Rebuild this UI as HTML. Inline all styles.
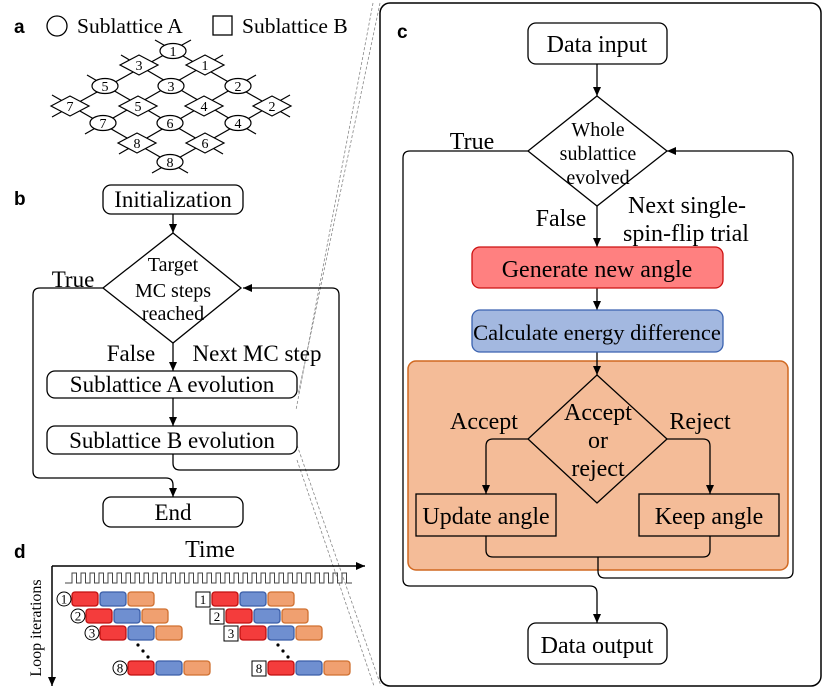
<!DOCTYPE html>
<html><head><meta charset="utf-8"><style>
body{margin:0;background:#fff}
svg{display:block}
text{font-family:"Liberation Serif",serif;fill:#000}
.b{font-family:"Liberation Sans",sans-serif;font-weight:bold}
</style></head><body>
<svg width="831" height="689" viewBox="0 0 831 689" xmlns="http://www.w3.org/2000/svg">
<defs>
<marker id="ar" markerWidth="10" markerHeight="10" refX="9" refY="5" orient="auto" markerUnits="userSpaceOnUse">
<path d="M0,1 L9,5 L0,9 z" fill="#000"/></marker>
</defs>

<g stroke="#888" stroke-width="0.8" stroke-dasharray="3,2" fill="none">
<line x1="380" y1="3" x2="298" y2="395"/>
<line x1="373" y1="3" x2="296" y2="410"/>
<line x1="297" y1="445" x2="381" y2="686"/>
<line x1="297" y1="460" x2="374" y2="686"/>
</g>

<!-- Panel a -->
<text x="14" y="33" class="b" font-size="19">a</text>
<circle cx="57" cy="26" r="10" fill="none" stroke="#000" stroke-width="1.3"/>
<text x="77" y="33" font-size="21.5">Sublattice A</text>
<rect x="213" y="16" width="19" height="19" fill="none" stroke="#000" stroke-width="1.3"/>
<text x="242" y="33" font-size="21.5">Sublattice B</text>
<g stroke="#000" stroke-width="1.2">
<line x1="155" y1="40" x2="290" y2="117"/>
<line x1="121" y1="55" x2="256" y2="134"/>
<line x1="87" y1="75" x2="223" y2="154"/>
<line x1="52" y1="95" x2="188" y2="173"/>
<line x1="191" y1="40" x2="52" y2="117"/>
<line x1="223" y1="55" x2="85" y2="134"/>
<line x1="256" y1="75" x2="119" y2="154"/>
<line x1="290" y1="95" x2="152" y2="173"/>
</g>
<g fill="#fff" stroke="#000" stroke-width="1.2">
<ellipse cx="173" cy="51" rx="13" ry="7.5"/>
<ellipse cx="105" cy="86" rx="13" ry="7.5"/>
<ellipse cx="171" cy="86" rx="13" ry="7.5"/>
<ellipse cx="238" cy="86" rx="13" ry="7.5"/>
<ellipse cx="103" cy="123" rx="13" ry="7.5"/>
<ellipse cx="170" cy="123" rx="13" ry="7.5"/>
<ellipse cx="238" cy="123" rx="13" ry="7.5"/>
<ellipse cx="170" cy="162" rx="13" ry="7.5"/>
<path d="M120,65 l19,-10 l19,10 l-19,10z"/>
<path d="M186,65 l19,-10 l19,10 l-19,10z"/>
<path d="M51,106 l19,-10 l19,10 l-19,10z"/>
<path d="M119,106 l19,-10 l19,10 l-19,10z"/>
<path d="M185,106 l19,-10 l19,10 l-19,10z"/>
<path d="M253,106 l19,-10 l19,10 l-19,10z"/>
<path d="M118,143 l19,-10 l19,10 l-19,10z"/>
<path d="M186,143 l19,-10 l19,10 l-19,10z"/>
</g>
<g font-size="14" text-anchor="middle" fill="#444">
<text x="173" y="56">1</text><text x="105" y="91">5</text><text x="171" y="91">3</text><text x="238" y="91">2</text>
<text x="103" y="128">7</text><text x="170" y="128">6</text><text x="238" y="128">4</text><text x="170" y="167">8</text>
<text x="139" y="70">3</text><text x="205" y="70">1</text><text x="70" y="111">7</text><text x="138" y="111">5</text>
<text x="204" y="111">4</text><text x="272" y="111">2</text><text x="137" y="148">8</text><text x="205" y="148">6</text>
</g>

<!-- Panel b -->
<text x="14" y="205" class="b" font-size="19">b</text>
<g fill="#fff" stroke="#000" stroke-width="1.3">
<rect x="103" y="185" width="140" height="29" rx="8"/>
<path d="M173,233 L241,288 L173,343 L103,288 Z"/>
<rect x="47" y="371" width="250" height="27" rx="8"/>
<rect x="47" y="426" width="250" height="28" rx="8"/>
<rect x="103" y="497" width="140" height="30" rx="8"/>
</g>
<g stroke="#000" stroke-width="1.3" fill="none">
<line x1="173" y1="214" x2="173" y2="233" marker-end="url(#ar)"/>
<line x1="173" y1="343" x2="173" y2="371" marker-end="url(#ar)"/>
<line x1="173" y1="398" x2="173" y2="426" marker-end="url(#ar)"/>
<path d="M103,288 H40 Q33,288 33,295 V471 Q33,478 40,478 H166 Q173,478 173,485 V497" marker-end="url(#ar)"/>
<path d="M173,454 V463 Q173,470 180,470 H332 Q339,470 339,463 V295 Q339,288 332,288 H243" marker-end="url(#ar)"/>
</g>
<g font-size="23" text-anchor="middle">
<text x="173" y="207">Initialization</text>
<text x="173" y="271" font-size="20">Target</text>
<text x="173" y="297" font-size="20">MC steps</text>
<text x="173" y="320" font-size="20">reached</text>
<text x="172" y="392">Sublattice A evolution</text>
<text x="172" y="448">Sublattice B evolution</text>
<text x="173" y="520">End</text>
<text x="73" y="287">True</text>
<text x="131" y="361">False</text>
<text x="257" y="361">Next MC step</text>
</g>

<!-- Panel c -->
<rect x="380" y="3" width="441" height="683" rx="10" fill="none" stroke="#000" stroke-width="1.5"/>
<text x="397" y="38" class="b" font-size="19">c</text>
<rect x="408" y="361" width="380" height="209" rx="8" fill="#f4bc98" stroke="#d06820" stroke-width="1.5"/>
<g stroke="#000" stroke-width="1.3" fill="none">
<line x1="597" y1="64" x2="597" y2="96" marker-end="url(#ar)"/>
<line x1="597" y1="206" x2="597" y2="247" marker-end="url(#ar)"/>
<line x1="597" y1="288" x2="597" y2="310" marker-end="url(#ar)"/>
<line x1="597" y1="352" x2="597" y2="375" marker-end="url(#ar)"/>
<path d="M528,151 H410 Q403,151 403,158"/>
<path d="M403,158 V579 Q403,586 410,586 H590 Q597,586 597,593 V623" marker-end="url(#ar)"/>
<path d="M598,557 V571 Q598,578 605,578 H786 Q793,578 793,571 V158 Q793,151 786,151 H667" marker-end="url(#ar)"/>
<path d="M528,439 H493 Q486,439 486,446 V494" marker-end="url(#ar)"/>
<path d="M667,439 H703 Q710,439 710,446 V494" marker-end="url(#ar)"/>
<path d="M486,536 V550 Q486,557 493,557 H703 Q710,557 710,550 V536"/>
</g>
<g stroke="#000" stroke-width="1.3">
<rect x="528" y="23" width="139" height="41" rx="8" fill="#fff"/>
<path d="M597,96 L667,151 L597,206 L528,151 Z" fill="#fff"/>
<rect x="472" y="247" width="251" height="41" rx="8" fill="#ff8080" stroke="#cc1010"/>
<rect x="472" y="310" width="251" height="42" rx="8" fill="#a3b8e0" stroke="#3a62b0"/>
<path d="M597,375 L667,439 L597,503 L528,439 Z" fill="#f4bc98"/>
<rect x="416" y="494" width="140" height="42" fill="#f4bc98"/>
<rect x="639" y="494" width="140" height="42" fill="#f4bc98"/>
<rect x="528" y="623" width="139" height="41" rx="8" fill="#fff"/>
</g>
<g font-size="24" text-anchor="middle">
<text x="597" y="52">Data input</text>
<text x="598" y="136" font-size="20">Whole</text>
<text x="598" y="160" font-size="20">sublattice</text>
<text x="598" y="184" font-size="20">evolved</text>
<text x="472" y="149">True</text>
<text x="561" y="226">False</text>
<text x="687" y="213">Next single-</text>
<text x="686" y="241">spin-flip trial</text>
<text x="597" y="277">Generate new angle</text>
<text x="597" y="340" font-size="22.5">Calculate energy difference</text>
<text x="598" y="420">Accept</text>
<text x="598" y="448">or</text>
<text x="598" y="476">reject</text>
<text x="484" y="429">Accept</text>
<text x="700" y="429">Reject</text>
<text x="486" y="524">Update angle</text>
<text x="709" y="524">Keep angle</text>
<text x="597" y="653">Data output</text>
</g>

<!-- Panel d -->
<text x="14" y="558" class="b" font-size="19">d</text>
<text x="210" y="557" font-size="24" text-anchor="middle">Time</text>
<g stroke="#000" stroke-width="1.5" fill="none">
<line x1="52" y1="566" x2="365" y2="566" marker-end="url(#ar)"/>
<line x1="52" y1="566" x2="52" y2="686" marker-end="url(#ar)"/>
</g>
<text transform="translate(41,628) rotate(-90)" font-size="16" text-anchor="middle">Loop iterations</text>
<path fill="none" stroke="#444" stroke-width="1" d="M65,583 H72 V573 H76.5 V583 H81 V573 H85.5 V583 H90 V573 H94.5 V583 H99 V573 H103.5 V583 H108 V573 H112.5 V583 H117 V573 H121.5 V583 H126 V573 H130.5 V583 H135 V573 H139.5 V583 H144 V573 H148.5 V583 H153 V573 H157.5 V583 H162 V573 H166.5 V583 H171 V573 H175.5 V583 H180 V573 H184.5 V583 H189 V573 H193.5 V583 H198 V573 H202.5 V583 H207 V573 H211.5 V583 H216 V573 H220.5 V583 H225 V573 H229.5 V583 H234 V573 H238.5 V583 H243 V573 H247.5 V583 H252 V573 H256.5 V583 H261 V573 H265.5 V583 H270 V573 H274.5 V583 H279 V573 H283.5 V583 H288 V573 H292.5 V583 H297 V573 H301.5 V583 H306 V573 H310.5 V583 H315 V573 H319.5 V583 H324 V573 H328.5 V583 H333 V573 H337.5 V583 H342 V573 H346.5 V583 H352"/>
<g stroke-width="1.3">
<g id="r1">
<rect x="72" y="592" width="26" height="14" rx="3" fill="#f43c3c" stroke="#c01010"/>
<rect x="100" y="592" width="26" height="14" rx="3" fill="#6f8fd0" stroke="#3a5ea8"/>
<rect x="128" y="592" width="26" height="14" rx="3" fill="#f0a070" stroke="#d07030"/>
</g>
<use href="#r1" x="14" y="17"/>
<use href="#r1" x="28" y="34"/>
<use href="#r1" x="56" y="69"/>
<use href="#r1" x="140" y="0"/>
<use href="#r1" x="154" y="17"/>
<use href="#r1" x="168" y="34"/>
<use href="#r1" x="196" y="69"/>
</g>
<g fill="none" stroke="#000" stroke-width="1">
<circle cx="64" cy="599" r="7"/><circle cx="78" cy="616" r="7"/><circle cx="92" cy="633" r="7"/><circle cx="120" cy="668" r="7"/>
<rect x="196" y="592" width="14" height="15"/><rect x="210" y="609" width="14" height="15"/><rect x="224" y="626" width="14" height="15"/><rect x="252" y="661" width="14" height="15"/>
</g>
<g font-size="13" text-anchor="middle">
<text x="64" y="603.5">1</text><text x="78" y="620.5">2</text><text x="92" y="637.5">3</text><text x="120" y="672.5">8</text>
<text x="203" y="604">1</text><text x="217" y="621">2</text><text x="231" y="638">3</text><text x="259" y="673">8</text>
</g>
<g fill="#000">
<circle cx="138" cy="645" r="1.6"/><circle cx="143" cy="651" r="1.6"/><circle cx="148" cy="657" r="1.6"/>
<circle cx="278" cy="645" r="1.6"/><circle cx="283" cy="651" r="1.6"/><circle cx="288" cy="657" r="1.6"/>
</g>
</svg>
</body></html>
